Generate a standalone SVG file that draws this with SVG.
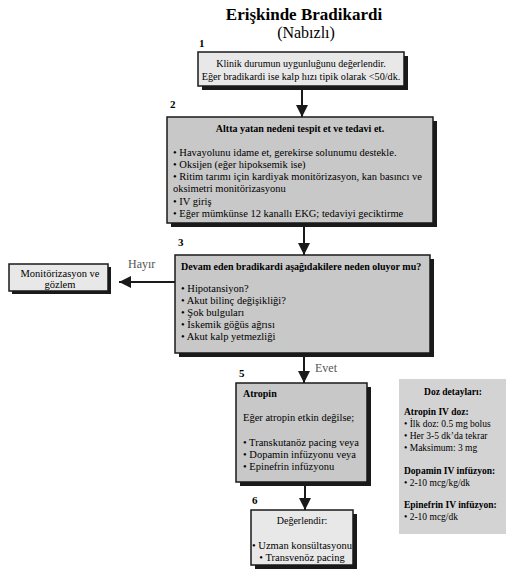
<svg xmlns="http://www.w3.org/2000/svg" width="517" height="582" viewBox="0 0 517 582">
<style>
text{font-family:"Liberation Serif","Times New Roman",serif;fill:#000}
.t{font-size:10.5px}
.tb{font-size:10px;font-weight:bold}
.b{font-weight:bold}
.c{text-anchor:middle}
.num{font-size:11px;font-weight:bold}
.box{stroke:#1a1a1a;stroke-width:1.5}
.light{fill:#e8e8e8}
.dark{fill:#c8c8c8}
.sh{fill:#1a1a1a}
.lbl{font-size:12px;fill:#555}
.conn{stroke:#1a1a1a;stroke-width:2;fill:none}
.p{font-size:9.5px}
.pb{font-size:9.5px;font-weight:bold}
</style>
<defs>
<marker id="ah" markerUnits="userSpaceOnUse" markerWidth="12" markerHeight="14" viewBox="0 0 12 14" refX="12" refY="7" orient="auto">
<path d="M0,1 L12,7 L0,13 Z" fill="#1a1a1a"/>
</marker>
</defs>
<g id="title">
<text x="304" y="20" class="c b" style="font-size:17px">Erişkinde Bradikardi</text>
<text x="306" y="38" class="c" style="font-size:16px">(Nabızlı)</text>
</g>
<g id="connectors">
<line class="conn" x1="302" y1="88" x2="302" y2="117" marker-end="url(#ah)"/>
<line class="conn" x1="304" y1="226" x2="304" y2="255" marker-end="url(#ah)"/>
<line class="conn" x1="304" y1="356" x2="304" y2="383" marker-end="url(#ah)"/>
<line class="conn" x1="305" y1="485" x2="305" y2="510" marker-end="url(#ah)"/>
<line class="conn" x1="175" y1="282" x2="119" y2="282" marker-end="url(#ah)"/>
<text x="128" y="268" class="lbl">Hayır</text>
<text x="315" y="372" class="lbl">Evet</text>
</g>
<g id="node1">
<text x="199" y="47" class="num">1</text>
<rect class="sh" x="202" y="56" width="206" height="34"/>
<rect class="box light" x="198" y="52" width="206" height="34"/>
<text x="301" y="67" class="c" style="font-size:10px">Klinik durumun uygunluğunu değerlendir.</text>
<text x="301" y="80" class="c" style="font-size:10.2px">Eğer bradikardi ise kalp hızı tipik olarak &lt;50/dk.</text>
</g>
<g id="node2">
<text x="170" y="108" class="num">2</text>
<rect class="sh" x="171" y="121" width="266" height="106"/>
<rect class="box dark" x="167" y="117" width="266" height="106"/>
<text x="300" y="132" class="tb c">Altta yatan nedeni tespit et ve tedavi et.</text>
<text x="173" y="156" class="t">• Havayolunu idame et, gerekirse solunumu destekle.</text>
<text x="173" y="168" class="t">• Oksijen (eğer hipoksemik ise)</text>
<text x="173" y="180" class="t">• Ritim tarımı için kardiyak monitörizasyon, kan basıncı ve</text>
<text x="173" y="192" class="t">oksimetri monitörizasyonu</text>
<text x="173" y="205" class="t">• IV giriş</text>
<text x="173" y="217" class="t">• Eğer mümkünse 12 kanallı EKG; tedaviyi geciktirme</text>
</g>
<g id="node3">
<text x="178" y="246" class="num">3</text>
<rect class="sh" x="179" y="259" width="255" height="98"/>
<rect class="box dark" x="175" y="255" width="255" height="98"/>
<text x="181" y="270" class="tb">Devam eden bradikardi aşağıdakilere neden oluyor mu?</text>
<text x="181" y="292" class="t">• Hipotansiyon?</text>
<text x="181" y="304" class="t">• Akut bilinç değişikliği?</text>
<text x="181" y="316" class="t">• Şok bulguları</text>
<text x="181" y="328" class="t">• İskemik göğüs ağrısı</text>
<text x="181" y="340" class="t">• Akut kalp yetmezliği</text>
</g>
<g id="node4">
<rect class="sh" x="12" y="267" width="99" height="27"/>
<rect class="box light" x="9" y="264" width="99" height="27"/>
<text x="60" y="277" class="c" style="font-size:10.5px">Monitörizasyon ve</text>
<text x="60" y="288" class="c" style="font-size:10.5px">gözlem</text>
</g>
<g id="node5">
<text x="239" y="377" class="num">5</text>
<rect class="sh" x="240" y="387" width="131" height="99"/>
<rect class="box dark" x="236" y="383" width="131" height="99"/>
<text x="243" y="397" class="tb">Atropin</text>
<text x="243" y="421" class="t">Eğer atropin etkin değilse;</text>
<text x="243" y="446" class="t">• Transkutanöz pacing veya</text>
<text x="243" y="458" class="t">• Dopamin infüzyonu veya</text>
<text x="243" y="470" class="t">• Epinefrin infüzyonu</text>
</g>
<g id="node6">
<text x="252" y="504" class="num">6</text>
<rect class="sh" x="255" y="514" width="102" height="55"/>
<rect class="box light" x="251" y="510" width="102" height="55"/>
<text x="302" y="524" class="c" style="font-size:10px">Değerlendir:</text>
<text x="302" y="549" class="c" style="font-size:10.5px">• Uzman konsültasyonu</text>
<text x="302" y="561" class="c" style="font-size:10.5px">• Transvenöz pacing</text>
</g>
<g id="doses">
<rect x="399" y="379" width="107" height="155" fill="#d3d3d3"/>
<text x="453" y="395" class="pb c">Doz detayları:</text>
<text x="404" y="415" class="pb">Atropin IV doz:</text>
<text x="404" y="427" class="p">• İlk doz: 0.5 mg bolus</text>
<text x="404" y="439" class="p">• Her 3-5 dk’da tekrar</text>
<text x="404" y="451" class="p">• Maksimum: 3 mg</text>
<text x="404" y="474" class="pb">Dopamin IV infüzyon:</text>
<text x="404" y="486" class="p">• 2-10 mcg/kg/dk</text>
<text x="404" y="508" class="pb">Epinefrin IV infüzyon:</text>
<text x="404" y="520" class="p">• 2-10 mcg/dk</text>
</g>
</svg>
